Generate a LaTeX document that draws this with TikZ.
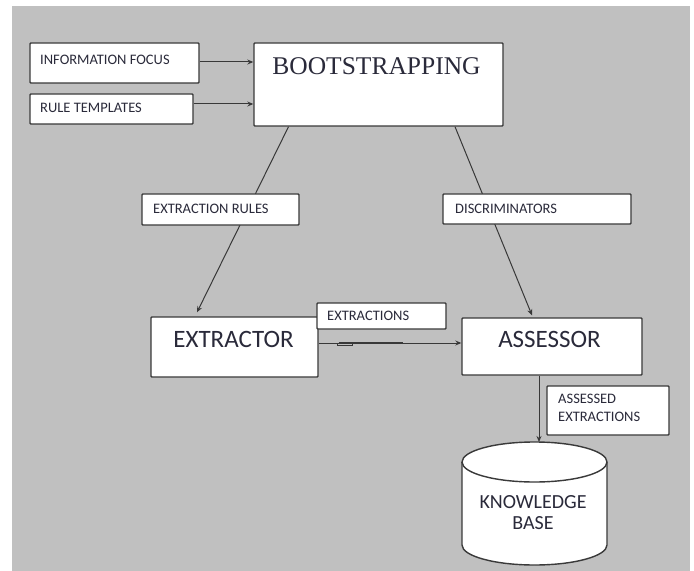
\documentclass[tikz,border=0pt]{standalone}
\usepackage{fontspec}
\setmainfont{Liberation Serif}
\newfontfamily\carlito{Carlito}
\usetikzlibrary{arrows.meta}
\pgfdeclarelayer{back}
\pgfdeclarelayer{edges}
\pgfsetlayers{back,edges,main}
\definecolor{bggray}{HTML}{C0C0C0}
\definecolor{boxline}{HTML}{3A3A3A}
\definecolor{edgecol}{HTML}{383838}
\definecolor{txt}{HTML}{2A2A3A}
\tikzset{
  box/.style={draw=boxline, line width=1.4bp, fill=white, inner sep=0pt, rounded corners=0.8bp},
  arr/.style={draw=edgecol, line width=1bp, -{Stealth[length=6bp,width=5bp]}},
  small/.style={font=\carlito\fontsize{14.5bp}{17bp}\selectfont, text=txt, inner sep=0pt},
  big/.style={font=\carlito\fontsize{25bp}{28bp}\selectfont, text=txt, inner sep=0pt},
  kbtext/.style={font=\carlito\fontsize{20bp}{21bp}\selectfont, text=txt, inner sep=0pt, align=center},
}
\begin{document}
\begin{tikzpicture}[x=1bp,y=-1bp]
\useasboundingbox (0,0) rectangle (694,571);
\begin{pgfonlayer}{back}
\fill[white] (0,0) rectangle (694,571);
\fill[bggray] (12,6) rectangle (690,571);
\end{pgfonlayer}

% boxes
\node[box, minimum width=169bp, minimum height=40bp] (info) at (114.5,63) {};
\node[small, anchor=base west] (infot) at (40,64.5) {INFORMATION FOCUS};
\node[box, minimum width=163bp, minimum height=30bp] (rt) at (111.5,109) {};
\node[small, anchor=base west] (rtt) at (40,112.5) {RULE TEMPLATES};
\node[box, minimum width=249bp, minimum height=83bp] (boot) at (378.5,84.5) {};
\node[font=\fontsize{25.5bp}{28bp}\selectfont, text=txt, inner sep=0pt, anchor=base] (boott) at (376.5,74.5) {BOOTSTRAPPING};

\node[box, minimum width=157bp, minimum height=31bp] (exr) at (220.5,209.5) {};
\node[small, anchor=base west] (exrt) at (153,213) {EXTRACTION RULES};
\node[box, minimum width=188bp, minimum height=30bp] (dis) at (537,209) {};
\node[small, anchor=base west] (dist) at (455,213) {DISCRIMINATORS};

\node[box, minimum width=167bp, minimum height=60bp] (ext) at (234.5,347) {};
\node[big, anchor=base] (extt) at (233.5,347) {EXTRACTOR};
\node[box, minimum width=129bp, minimum height=26bp] (exs) at (381.5,316) {};
\node[small, anchor=base west] (exst) at (327,320.5) {EXTRACTIONS};
\node[box, minimum width=180bp, minimum height=57bp] (ass) at (552,346.5) {};
\node[big, anchor=base] (asst) at (549.5,347) {ASSESSOR};
\node[box, minimum width=122bp, minimum height=49bp] (asx) at (608,410.5) {};
\node[small, anchor=base west] (asxa) at (558,403.5) {ASSESSED};
\node[small, anchor=base west] (asxb) at (558,421.5) {EXTRACTIONS};

% knowledge base cylinder
\draw[boxline, line width=1.4bp, fill=white]
  (462,462) -- (462,545) arc[start angle=180, end angle=360, x radius=72.5bp, y radius=20bp]
  -- (607,462) arc[start angle=0, end angle=180, x radius=72.5bp, y radius=20bp] -- cycle;
\draw[boxline, line width=1.4bp]
  (462,462) arc[start angle=180, end angle=360, x radius=72.5bp, y radius=20bp];
\coordinate (kbtop) at (539,442);
\node[kbtext] (kbt) at (533,513) {KNOWLEDGE\\BASE};

% connectors
\begin{pgfonlayer}{edges}
\coordinate (infoout) at ([yshift=1bp]info.east);
\draw[arr] (infoout) -- (infoout -| boot.west);
\coordinate (rtout) at ([yshift=5bp]rt.east);
\draw[arr] (rtout) -- (rtout -| boot.west);
\draw[arr] ([xshift=-90bp]boot.south) -- ([xshift=-37.5bp,yshift=4bp]ext.north);
\draw[arr] ([xshift=76.5bp]boot.south) -- ([xshift=-20bp,yshift=2bp]ass.north);
\coordinate (extout) at ([yshift=4bp]ext.east);
\draw[arr] (extout) -- (extout -| ass.west);
\draw[edgecol, line width=2.2bp] ([xshift=20bp]extout) -- ([xshift=84bp]extout);
\draw[edgecol, line width=0.8bp] ([xshift=19bp,yshift=-2.5bp]extout) rectangle ([xshift=34bp,yshift=-0.5bp]extout);
\draw[arr] (ass.south -| kbtop) -- (kbtop);
\end{pgfonlayer}
\end{tikzpicture}
\end{document}
